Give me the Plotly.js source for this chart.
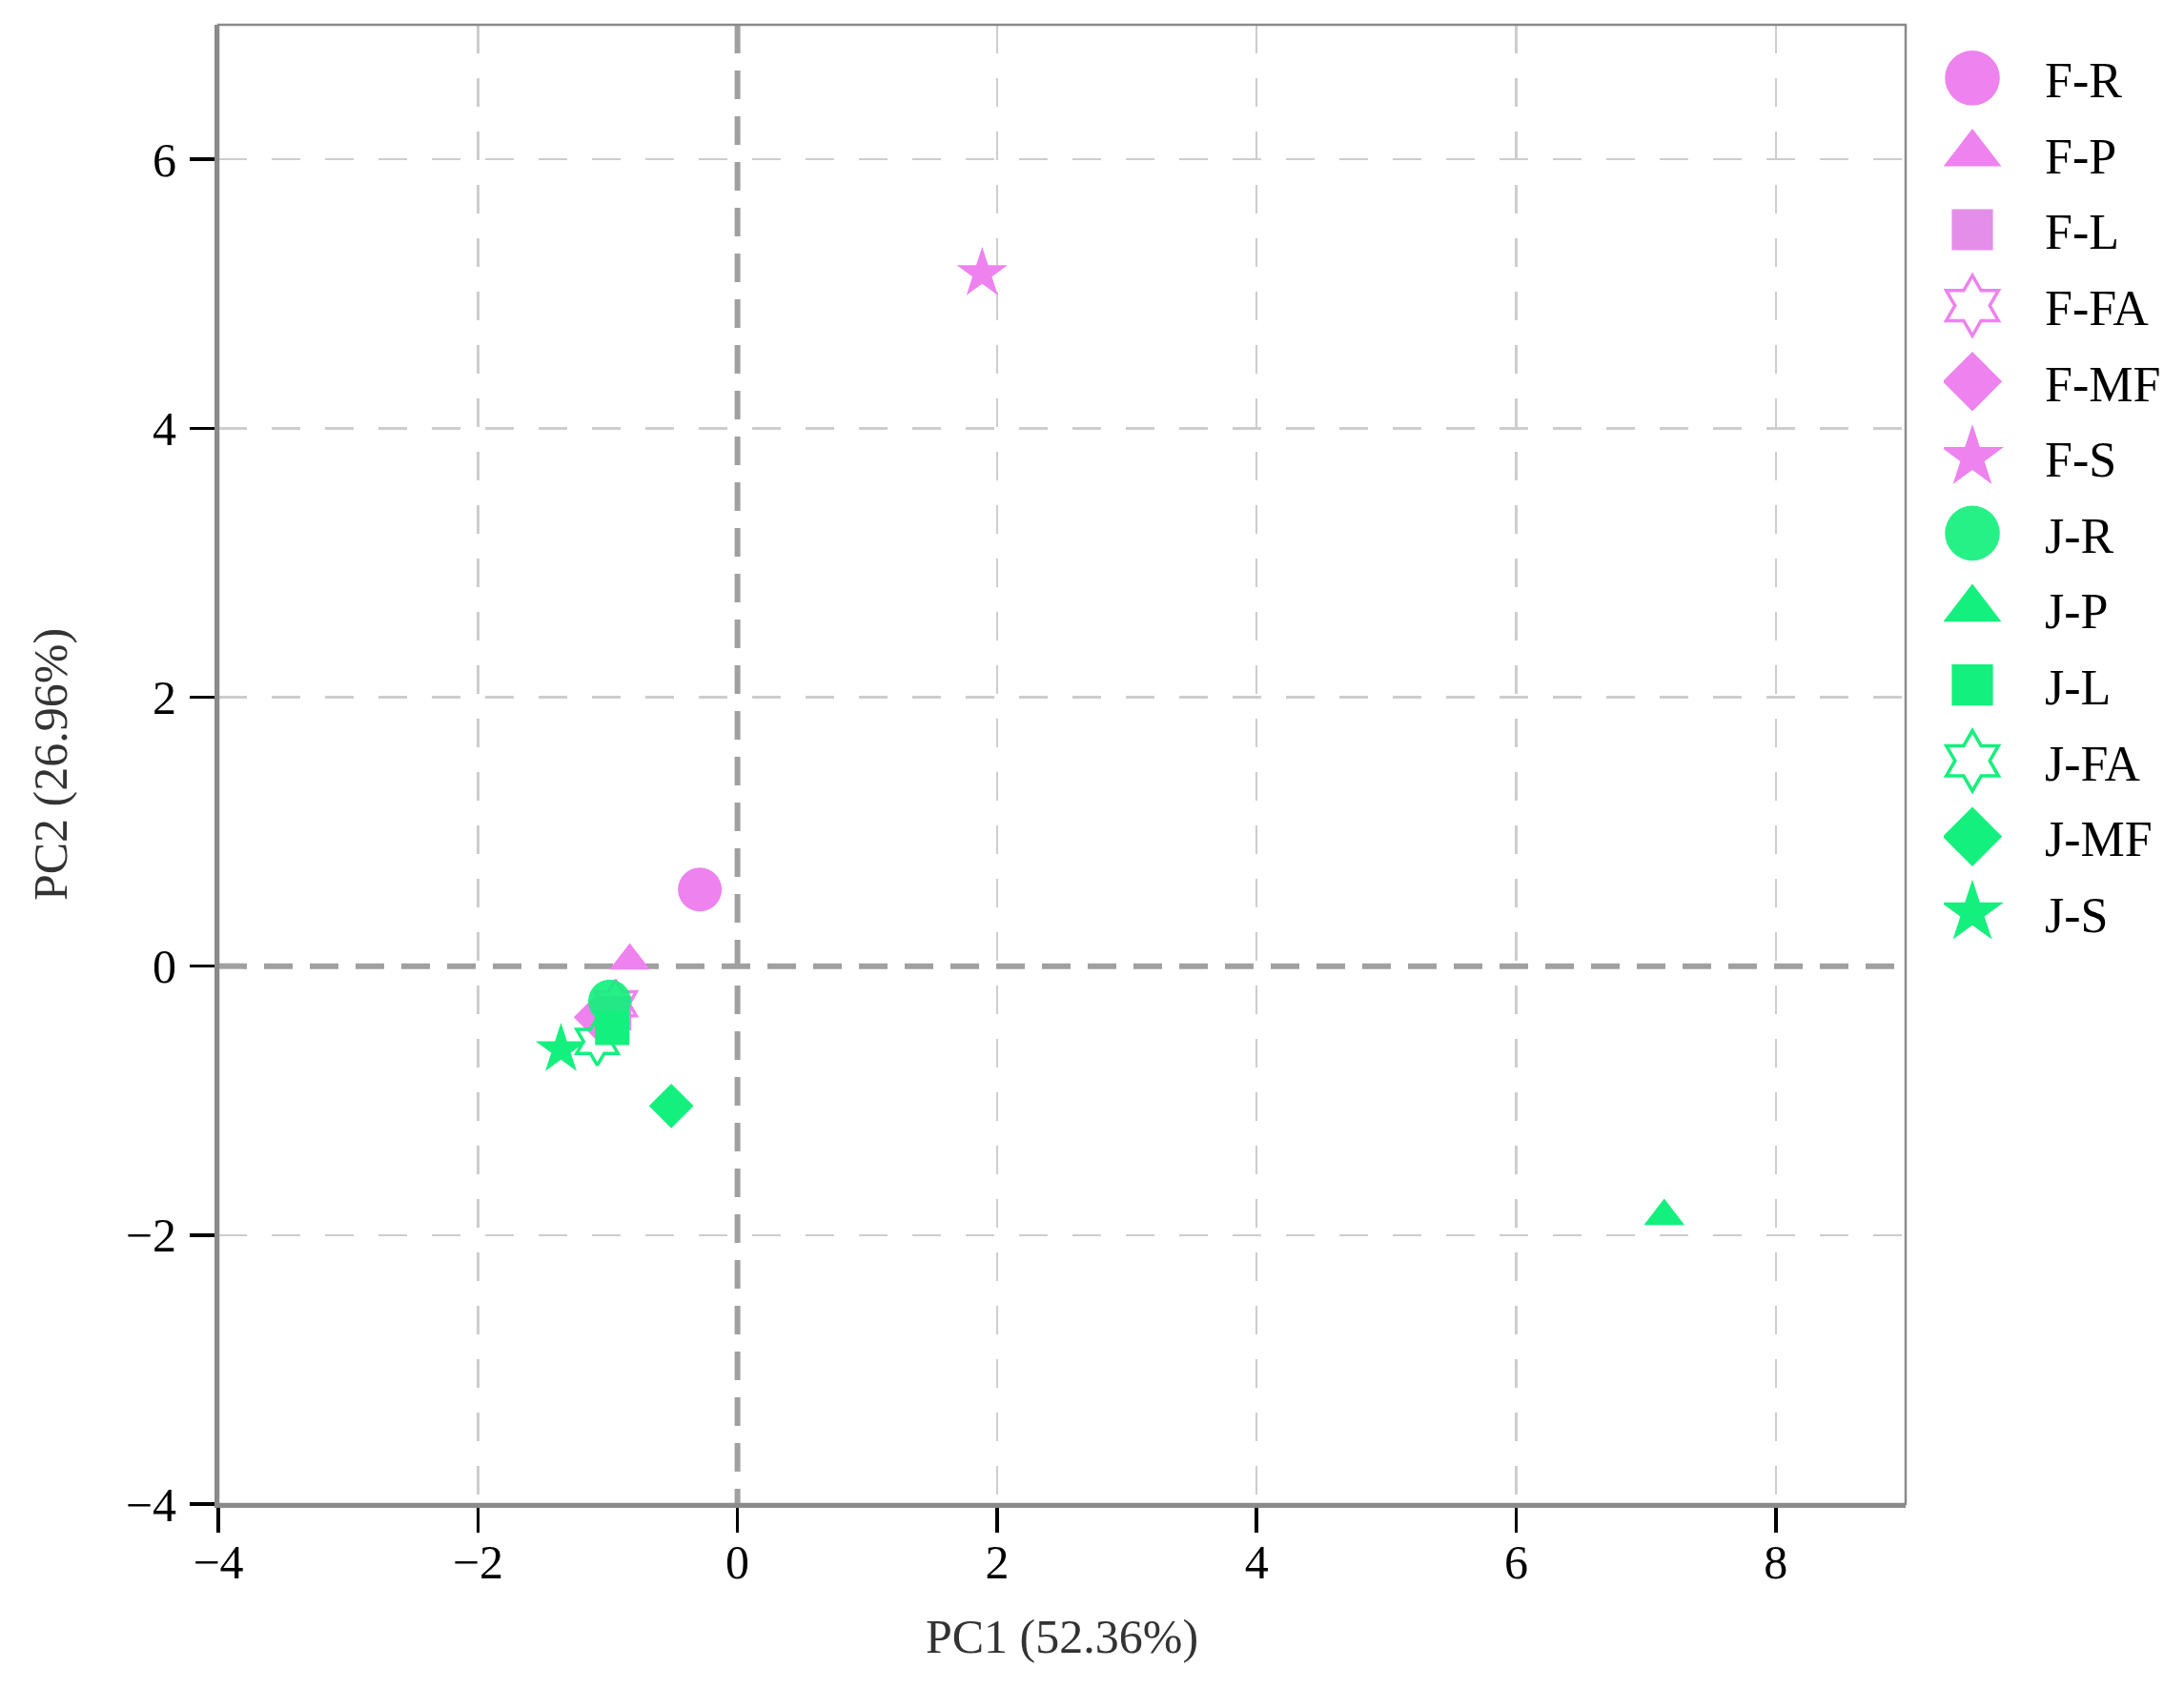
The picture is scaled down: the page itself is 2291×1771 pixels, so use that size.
<!DOCTYPE html>
<html>
<head>
<meta charset="utf-8">
<script src="https://cdn.plot.ly/plotly-3.0.1.min.js"></script>
<style>html,body{margin:0;padding:0;background:#fff;}</style>
</head>
<body>
<div id="chart" style="width:2291px;height:1771px;"></div>
<script>
// ---- data ----
const sampleNames = ["F-R","F-P","F-L","F-FA","F-MF","F-S","J-R","J-P","J-L","J-FA","J-MF","J-S"];
const pc1Values   = [-0.29, -0.83, -0.95, -0.94, -1.09, 1.885, -0.985, 7.14, -0.965, -1.08, -0.51, -1.36];
const pc2Values   = [ 0.57,  0.04, -0.35, -0.28, -0.38, 5.15, -0.26, -1.86, -0.46, -0.56, -1.04, -0.62];
const xTickVals = [-4,-2,0,2,4,6,8];
const yTickVals = [-4,-2,0,2,4,6];
const xTitle = "PC1 (52.36%)";
const yTitle = "PC2 (26.96%)";

// grid lines everywhere except at zero (zero gets its own darker dashed line)
const xGridVals = xTickVals.filter(v => v !== 0 && v !== -4);
const yGridVals = yTickVals.filter(v => v !== 0 && v !== -4);

// ---- styles ----
const violet = "rgb(238,130,238)";
const violetLight = "rgb(228,142,234)";
const green = "rgb(20,240,125)";
const symbolLegendScale = {"circle": 3.6, "triangle-up": 3.3, "square": 2.7, "hexagram-open": 3.0, "diamond": 3.0, "star": 3.1};
const styles = {
  "F-R":  {symbol:"circle", size:46, color:violet},
  "F-P":  {symbol:"triangle-up", size:37, color:violet},
  "F-L":  {symbol:"square", size:36, color:violetLight},
  "F-FA": {symbol:"hexagram-open", size:38, color:violet},
  "F-MF": {symbol:"diamond", size:36, color:violet},
  "F-S":  {symbol:"star", size:40, color:violet},
  "J-R":  {symbol:"circle", size:45, color:green},
  "J-P":  {symbol:"triangle-up", size:37, color:green},
  "J-L":  {symbol:"square", size:36, color:green},
  "J-FA": {symbol:"hexagram-open", size:38, color:green},
  "J-MF": {symbol:"diamond", size:36, color:green},
  "J-S":  {symbol:"star", size:40, color:green}
};

const FONT = "Liberation Serif, Times New Roman, serif";

const traces = sampleNames.map((name, i) => {
  const s = styles[name];
  const open = s.symbol.endsWith("-open");
  return {
    type: "scatter",
    mode: "markers",
    name: name,
    legendgroup: name,
    x: [pc1Values[i]],
    y: [pc2Values[i]],
    marker: {
      symbol: s.symbol,
      size: s.size,
      color: s.color,
      opacity: name === "J-R" ? 0.92 : 1,
      line: open ? {color: s.color, width: 3.5} : {width: 0}
    },
    hoverinfo: "name+x+y"
  };
});

const GRID_DASH = "30px,26px";
const ZERO_DASH = "30px,18px";

function axisCommon(tickVals, gridVals, standoff) {
  return {
    tickvals: tickVals,
    ticktext: tickVals.map(v => v < 0 ? "\u2212" + Math.abs(v) : String(v)),
    ticks: "outside", ticklen: 26, tickwidth: 3.5, tickcolor: "#000",
    ticklabelstandoff: standoff,
    tickfont: {family: FONT, size: 50, color: "#000"},
    showline: true, linecolor: "#8a8a8a", linewidth: 4, mirror: false,
    showgrid: false,
    minor: {tickmode: "array", tickvals: gridVals, ticks: "", showgrid: true,
            gridcolor: "#cdcdcd", gridwidth: 2.5, griddash: GRID_DASH},
    zeroline: false
  };
}

const layout = {
  width: 2291,
  height: 1771,
  paper_bgcolor: "#ffffff",
  plot_bgcolor: "#ffffff",
  margin: {l: 229, r: 292, t: 26, b: 193, autoexpand: false},
  font: {family: FONT, color: "#000"},
  showlegend: true,
  legend: {
    x: 1.0226, xanchor: "left",
    y: 0.990, yanchor: "top",
    font: {family: FONT, size: 52, color: "#000"},
    itemwidth: 96,
    tracegroupgap: 9,
    bgcolor: "rgba(0,0,0,0)",
    borderwidth: 0
  },
  xaxis: Object.assign(axisCommon(xTickVals, xGridVals, -12), {
    range: [-4, 9],
    title: {text: xTitle, font: {family: FONT, size: 50, color: "#333"}, standoff: 34}
  }),
  yaxis: Object.assign(axisCommon(yTickVals, yGridVals, 4), {
    range: [-4, 7],
    title: {text: yTitle, font: {family: FONT, size: 50, color: "#333"}, standoff: 46}
  }),
  shapes: [
    {type: "line", xref: "x", yref: "paper", x0: 0, x1: 0, y0: 1, y1: 0, layer: "below",
     line: {color: "#a0a0a0", width: 6, dash: ZERO_DASH}},
    {type: "line", xref: "paper", yref: "y", x0: 0, x1: 1, y0: 0, y1: 0, layer: "below",
     line: {color: "#a0a0a0", width: 6, dash: ZERO_DASH}},
    {type: "rect", xref: "paper", yref: "paper", x0: 0, x1: 1, y0: 0, y1: 1, layer: "above",
     line: {color: "#8a8a8a", width: 2.5}}
  ]
};

Plotly.newPlot("chart", traces, layout, {displayModeBar: false, staticPlot: true}).then(gd => {
  // enlarge legend symbols to match the reference's large legend markers
  const items = gd.querySelectorAll(".legend .traces");
  items.forEach((item, i) => {
    const name = sampleNames[i];
    const sc = (name && symbolLegendScale[styles[name].symbol]) || 3;
    const txt = item.querySelector("text.legendtext");
    const tx = txt ? parseFloat(txt.getAttribute("x")) : 106;
    item.querySelectorAll(".legendpoints path.scatterpts").forEach(p => {
      p.setAttribute("transform", "translate(" + (tx - 76) + ",0) scale(" + sc + ")");
      p.style.vectorEffect = "non-scaling-stroke";
      if (p.style.strokeWidth && parseFloat(p.style.strokeWidth) > 0) p.style.strokeWidth = "3.5px";
    });
  });
});
</script>
</body>
</html>
